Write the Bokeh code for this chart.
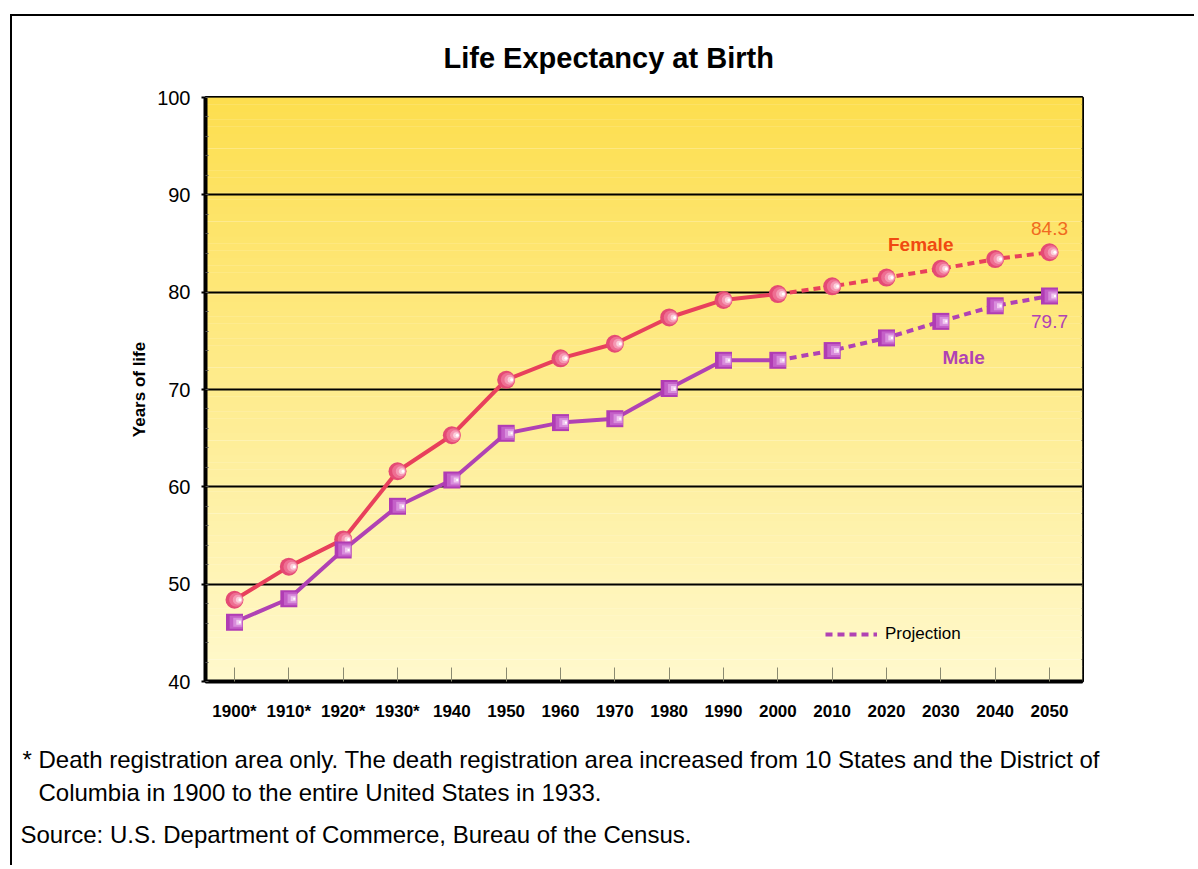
import numpy as np
from bokeh.plotting import figure
from bokeh.models import (Label, Legend, LegendItem, FixedTicker, Range1d, Title)
from bokeh.embed import file_html
from bokeh.resources import INLINE

years = [1900, 1910, 1920, 1930, 1940, 1950, 1960, 1970, 1980, 1990,
         2000, 2010, 2020, 2030, 2040, 2050]
year_labels = ["1900*", "1910*", "1920*", "1930*", "1940", "1950", "1960", "1970",
               "1980", "1990", "2000", "2010", "2020", "2030", "2040", "2050"]
female = [48.4, 51.8, 54.6, 61.6, 65.3, 71.0, 73.2, 74.7, 77.4, 79.2,
          79.8, 80.6, 81.5, 82.4, 83.4, 84.1]
male = [46.1, 48.5, 53.5, 58.0, 60.7, 65.5, 66.6, 67.0, 70.1, 73.0,
        73.0, 74.0, 75.3, 77.0, 78.6, 79.6]
proj_start = 2000
y_ticks = [40, 50, 60, 70, 80, 90, 100]

FONT = "Liberation Sans"
OX, OY = 12, 16            # offset of the canvas inside the outer box border
W, H = 1198 - OX - 2, 869 - OY - 2
FL, FT, FR, FB = 205 - OX, 97 - OY, 1082 - OX, 681 - OY  # frame edges (canvas px)

px_per_year = (1049 - 234) / 150.0
x0 = 1900 - (234 - 205) / px_per_year
x1 = 2050 + (1082 - 1049) / px_per_year

p = figure(width=W, height=H, output_backend="svg", toolbar_location=None,
           x_range=Range1d(x0, x1), y_range=Range1d(40, 100),
           min_border_left=FL, min_border_right=W - FR,
           min_border_top=FT, min_border_bottom=H - FB,
           styles={"margin-left": "10px", "margin-top": "14px",
                   "border-left": "2px solid black", "border-top": "2px solid black"})
p.background_fill_color = None
p.border_fill_color = "white"

# title
p.title.text = "Life Expectancy at Birth"
p.title.align = "left"
p.title.offset = 443 - 205
p.title.text_font = FONT
p.title.text_font_style = "bold"
p.title.text_font_size = "29px"
p.title.text_color = "black"
p.title.standoff = 47

# gradient background strips
n = 80
edges = np.linspace(40, 100, n + 1)
top_c = np.array([253, 222, 78])
bot_c = np.array([255, 249, 205])
cols = []
for i in range(n):
    t = (edges[i] + edges[i + 1]) / 2
    f = (t - 40) / 60.0
    c = bot_c + (top_c - bot_c) * f
    cols.append("#%02x%02x%02x" % tuple(int(round(v)) for v in c))
p.quad(left=x0, right=x1, bottom=edges[:-1], top=edges[1:] + 0.02,
       fill_color=cols, line_color=None, level="image")

# grid
p.xgrid.visible = False
p.ygrid.ticker = FixedTicker(ticks=y_ticks)
p.ygrid.grid_line_color = "black"
p.ygrid.grid_line_width = 2
p.ygrid.level = "underlay"

p.outline_line_color = "black"
p.outline_line_width = 3

# axes
p.xaxis.ticker = FixedTicker(ticks=years)
p.xaxis.major_label_overrides = {y: l for y, l in zip(years, year_labels)}
p.xaxis.major_label_text_font = FONT
p.xaxis.major_label_text_font_style = "bold"
p.xaxis.major_label_text_font_size = "17px"
p.xaxis.major_label_text_color = "black"
p.xaxis.major_label_standoff = 20
p.xaxis.axis_line_width = 4
p.xaxis.axis_line_color = "black"
p.xaxis.major_tick_in = 14
p.xaxis.major_tick_out = 0
p.xaxis.major_tick_line_color = "#8a8a70"
p.xaxis.major_tick_line_width = 1
p.xaxis.minor_tick_line_color = None

p.yaxis.ticker = FixedTicker(ticks=y_ticks, minor_ticks=list(np.arange(40, 100.1, 2.0)))
p.yaxis.major_label_text_font = FONT
p.yaxis.major_label_text_font_size = "20px"
p.yaxis.major_label_text_color = "black"
p.yaxis.major_label_standoff = 11
p.yaxis.axis_line_width = 4
p.yaxis.axis_line_color = "black"
p.yaxis.major_tick_in = 0
p.yaxis.major_tick_out = 4
p.yaxis.major_tick_line_width = 2
p.yaxis.minor_tick_in = 3
p.yaxis.minor_tick_out = 0
p.yaxis.minor_tick_line_color = "#555555"
p.yaxis.axis_label = "Years of life"
p.yaxis.axis_label_text_font = FONT
p.yaxis.axis_label_text_font_style = "bold"
p.yaxis.axis_label_text_font_size = "17px"
p.yaxis.axis_label_text_color = "black"
p.yaxis.axis_label_standoff = 5

FEM_LINE = "#e8405c"
MAL_LINE = "#b042b4"

k = years.index(proj_start)
p.line(years[:k + 1], female[:k + 1], line_color=FEM_LINE, line_width=4)
p.line(years[k:], female[k:], line_color=FEM_LINE, line_width=4, line_dash="7 5")
p.line(years[:k + 1], male[:k + 1], line_color=MAL_LINE, line_width=4)
mproj = p.line(years[k:], male[k:], line_color=MAL_LINE, line_width=4, line_dash="7 5")

# sphere-like markers
fx = np.array(years, dtype=float)
for size, col, dx in [(18, "#e44a74", 0), (14, "#ee6e92", 0.3), (10, "#f599b4", 0.6),
                      (6, "#fcd0dc", 0.8), (3, "#ffffff", 1.0)]:
    p.scatter(fx + dx, female, marker="circle", size=size, fill_color=col, line_color=None)
for size, col, dx in [(17, "#b03cb4", 0), (13, "#c460c8", 0.3), (9, "#d88ddc", 0.6),
                      (5, "#f0c8f0", 0.8), (2, "#ffffff", 1.0)]:
    p.scatter(fx + dx, male, marker="square", size=size, fill_color=col, line_color=None)

# legend
legend = Legend(items=[LegendItem(label="Projection", renderers=[mproj])],
                location=(620, 37), glyph_width=52, glyph_height=20,
                label_standoff=8, label_text_font=FONT, label_text_font_size="17px",
                background_fill_alpha=0, border_line_alpha=0, padding=0, margin=0,
                label_text_color="black")
p.add_layout(legend, "center")

# series labels
p.add_layout(Label(x=2026.3, y=84.9, text="Female", text_align="center",
                   text_baseline="middle", text_font=FONT, text_font_style="bold",
                   text_font_size="19px", text_color="#f04a10"))
p.add_layout(Label(x=2050, y=86.5, text="84.3", text_align="center",
                   text_baseline="middle", text_font=FONT,
                   text_font_size="19px", text_color="#f06a20"))
p.add_layout(Label(x=2050, y=77.0, text="79.7", text_align="center",
                   text_baseline="middle", text_font=FONT,
                   text_font_size="19px", text_color="#b042b4"))
p.add_layout(Label(x=2034.2, y=73.3, text="Male", text_align="center",
                   text_baseline="middle", text_font=FONT, text_font_style="bold",
                   text_font_size="19px", text_color="#b042b4"))


def foot(text, x_screen, standoff, size="24px"):
    return Title(text=text, align="left", offset=x_screen - 205,
                 text_font=FONT, text_font_style="normal", text_font_size=size,
                 text_color="black", standoff=standoff)


p.add_layout(foot("\u00a0", 22, 7, size="10px"), "below")  # spacer
p.add_layout(foot("* Death registration area only. The death registration area increased from 10 States and the District of", 22, 0), "below")
p.add_layout(foot("Columbia in 1900 to the entire United States in 1933.", 38, 8), "below")
p.add_layout(foot("Source:  U.S. Department of Commerce, Bureau of the Census.", 20, 18), "below")

open("out.html", "w").write(file_html(p, INLINE))
